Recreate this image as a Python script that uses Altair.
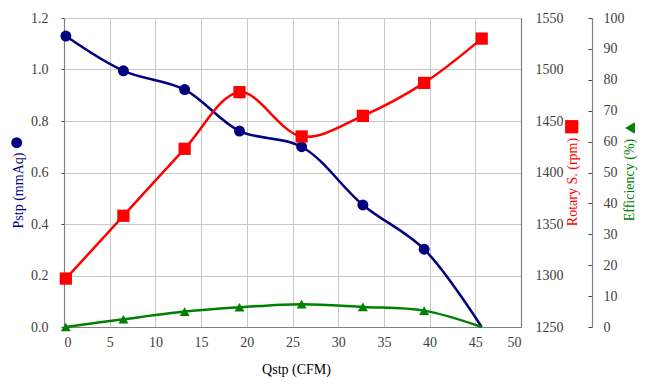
import altair as alt
import pandas as pd

qstp = [0.2, 6.5, 13.2, 19.2, 26.0, 32.7, 39.4, 45.7]
pstp = [1.13, 0.995, 0.922, 0.761, 0.70, 0.474, 0.302, 0.0]
rpm = [1297, 1358, 1423, 1478, 1435, 1455, 1487, 1530]
eff = [0.0, 2.5, 5.0, 6.4, 7.4, 6.5, 5.3, 0.0]
# whether a marker is drawn at each point
pstp_mark = [1, 1, 1, 1, 1, 1, 1, 0]
rpm_mark = [1, 1, 1, 1, 1, 1, 1, 1]
eff_mark = [1, 1, 1, 1, 1, 1, 1, 0]

x_ticks = list(range(0, 51, 5))
p_ticks = [0.0, 0.2, 0.4, 0.6, 0.8, 1.0, 1.2]
r_ticks = list(range(1250, 1551, 50))
e_ticks = list(range(0, 101, 10))

df = pd.DataFrame({"q": qstp, "p": pstp, "r": rpm, "e": eff,
                   "pm": pstp_mark, "rm": rpm_mark, "em": eff_mark})

NAVY = "#000080"
RED = "#FF0000"
GREEN = "#008000"
LABEL = "#404040"
FONT = "Liberation Serif"
W, H = 457, 309

x_enc = alt.X("q:Q", scale=alt.Scale(domain=[0, 50], nice=False),
              axis=alt.Axis(values=x_ticks, title="Qstp (CFM)", grid=True,
                            format="d", tickSize=0, labelPadding=8,
                            labelFont=FONT, titleFont=FONT,
                            titleX=232, titleY=42, titleAlign="center",
                            titleBaseline="middle", domainColor="#808080"))

base = alt.Chart(df)
one = alt.Chart(pd.DataFrame({"k": [0]}))

y_p = alt.Y("p:Q", scale=alt.Scale(domain=[0, 1.2], nice=False),
            axis=alt.Axis(orient="left", values=p_ticks, format=".1f", grid=True,
                          title="Pstp (mmAq)", titleColor=NAVY,
                          labelFont=FONT, titleFont=FONT,
                          titleAngle=270, titleX=-45.7, titleY=172,
                          titleAlign="center", titleBaseline="middle",
                          tickSize=3, labelPadding=13, domainColor="#808080"))
blue = alt.layer(
    base.mark_line(color=NAVY, strokeWidth=2.5, interpolate="catmull-rom").encode(x=x_enc, y=y_p),
    base.mark_point(shape="circle", filled=True, color=NAVY, size=120, opacity=1)
        .encode(x=x_enc, y=y_p).transform_filter("datum.pm == 1"),
)

y_r = alt.Y("r:Q", scale=alt.Scale(domain=[1250, 1550], nice=False),
            axis=alt.Axis(orient="right", values=r_ticks, format="d", grid=False,
                          title="Rotary S. (rpm)", titleColor=RED,
                          labelFont=FONT, titleFont=FONT,
                          titleAngle=270, titleX=51.3, titleY=163.5,
                          titleAlign="center", titleBaseline="middle",
                          ticks=False, labelPadding=14, domainColor="#808080"))
red = alt.layer(
    base.mark_line(color=RED, strokeWidth=2.5, interpolate="catmull-rom").encode(x=x_enc, y=y_r),
    base.mark_point(shape="square", filled=True, color=RED, size=150, opacity=1)
        .encode(x=x_enc, y=y_r).transform_filter("datum.rm == 1"),
)

y_e = alt.Y("e:Q", scale=alt.Scale(domain=[0, 100], nice=False),
            axis=alt.Axis(orient="left", offset=-(W + 71), values=e_ticks, format="d", grid=False,
                          title="Efficiency (%)", titleColor=GREEN,
                          labelFont=FONT, titleFont=FONT,
                          titleAngle=270, titleX=37, titleY=161.5,
                          titleAlign="center", titleBaseline="middle",
                          tickSize=4, labelPadding=-15, labelAlign="left",
                          domainColor="#808080", tickColor="#404040"))
green = alt.layer(
    base.mark_line(color=GREEN, strokeWidth=2.5, interpolate="catmull-rom").encode(x=x_enc, y=y_e),
    base.mark_point(shape="triangle-up", filled=True, color=GREEN, size=100, opacity=1)
        .encode(x=x_enc, y=y_e).transform_filter("datum.em == 1"),
)

# legend-like symbols at the ends of the axis titles
symbols = alt.layer(
    one.mark_point(shape="circle", filled=True, color=NAVY, size=120, opacity=1)
        .encode(x=alt.value(-47.3), y=alt.value(124.7)),
    one.mark_point(shape="square", filled=True, color=RED, size=175, opacity=1)
        .encode(x=alt.value(W + 50.7), y=alt.value(108.7)),
    one.mark_point(shape="triangle-left", filled=True, color=GREEN, size=130, opacity=1)
        .encode(x=alt.value(W + 71 + 38), y=alt.value(110)),
)

chart = alt.layer(blue, red, green, symbols).resolve_scale(y="independent").properties(
    width=W, height=H,
    padding={"left": 56, "top": 10, "right": 118, "bottom": 55},
    autosize=alt.AutoSizeParams(type="none"),
).configure(
    font=FONT,
).configure_axis(
    labelFont=FONT, titleFont=FONT,
    labelFontSize=14, titleFontSize=14, labelColor=LABEL, titleFontWeight="normal",
    gridColor="#c8c8c8", gridWidth=1, tickColor="#404040", domainWidth=1.2,
).configure_view(stroke="#808080")

chart.save("out.html", embed_options={"renderer": "svg", "actions": False})
